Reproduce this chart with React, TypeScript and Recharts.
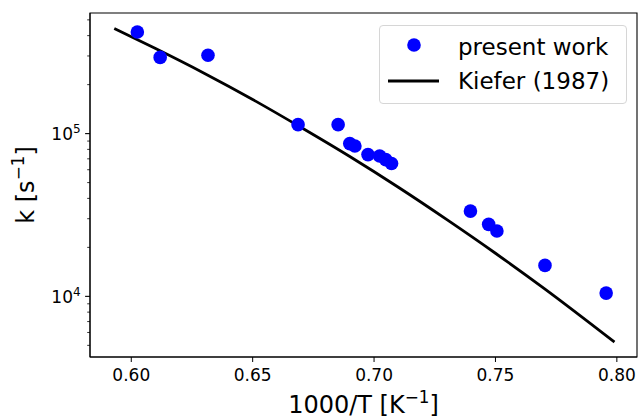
import { ComposedChart, XAxis, YAxis, Scatter, Line, Legend, Label, ReferenceArea } from 'recharts';

const FONT = '"DejaVu Sans", sans-serif';

// present work (1000/T, k)
const presentInvT = [0.6025, 0.6119, 0.6316, 0.6687, 0.6852, 0.69, 0.6921, 0.6975, 0.7023, 0.7048, 0.7072, 0.7397, 0.7472, 0.7506, 0.7704, 0.7956];
const presentK = [421000, 294000, 303000, 113500, 113500, 86800, 83900, 74300, 72800, 69200, 65500, 33400, 27700, 25200, 15500, 10470];

// Kiefer (1987) curve
const kieferInvT = [0.593, 0.61, 0.63, 0.65, 0.67, 0.69, 0.71, 0.73, 0.75, 0.77, 0.799];
const kieferK = [442000, 333000, 235000, 162000, 109000, 72300, 46800, 29600, 18400, 11200, 5240];

const xTicks = [0.6, 0.65, 0.7, 0.75, 0.8];
const yMajor = [10000, 100000];
const yMinor = [5000, 6000, 7000, 8000, 9000, 20000, 30000, 40000, 50000, 60000, 70000, 80000, 90000, 200000, 300000, 400000, 500000];

const xDomain = [0.583, 0.8083];
const yDomain = [4240, 551000];

const presentData = presentInvT.map((x, i) => ({ x, k: presentK[i] }));
const kieferData = kieferInvT.map((x, i) => ({ x, k: kieferK[i] }));

function BlueDot(props: any) {
  if (props.cx == null || props.cy == null) return null;
  return <circle cx={props.cx} cy={props.cy} r={6.8} fill="#0000ff" />;
}

function YTick({ x, y, payload }: any) {
  const v = payload.value;
  const major = yMajor.includes(v);
  const len = major ? 4.9 : 2.8;
  return (
    <g>
      <line x1={x - len} x2={x} y1={y} y2={y} stroke="#000" strokeWidth={major ? 1.1 : 0.8} />
      {major && (
        <text x={x - len - 4.5} y={y + 6.5} textAnchor="end" fontFamily={FONT} fontSize={17} fill="#000">
          10<tspan dy={-7} fontSize={12}>{Math.round(Math.log10(v))}</tspan>
        </text>
      )}
    </g>
  );
}

function XLabel({ viewBox }: any) {
  const cx = viewBox.x + viewBox.width / 2;
  return (
    <text x={cx} y={viewBox.y + 56} textAnchor="middle" fontFamily={FONT} fontSize={24} fill="#000">
      1000/T [K<tspan dy={-10} fontSize={16.8}>−1</tspan><tspan dy={10}>]</tspan>
    </text>
  );
}

function YLabel({ viewBox }: any) {
  const cy = viewBox.y + viewBox.height / 2;
  return (
    <text transform={`translate(33.5, ${cy}) rotate(-90)`} textAnchor="middle" fontFamily={FONT} fontSize={24} fill="#000">
      k [s<tspan dy={-10} fontSize={16.8}>−1</tspan><tspan dy={10}>]</tspan>
    </text>
  );
}

function LegendBox() {
  return (
    <div
      style={{
        width: 248,
        height: 79,
        boxSizing: 'border-box',
        border: '1px solid #d6d6d6',
        borderRadius: 4,
        background: 'rgba(255,255,255,0.8)',
      }}
    >
      <svg width={246} height={77} style={{ display: 'block' }}>
        <circle cx={34} cy={19} r={6.8} fill="#0000ff" />
        <text x={78} y={29} fontFamily={FONT} fontSize={23} fill="#000">present work</text>
        <line x1={8} x2={59} y1={55} y2={55} stroke="#000" strokeWidth={2.8} />
        <text x={78} y={63} fontFamily={FONT} fontSize={23} fill="#000">Kiefer (1987)</text>
      </svg>
    </div>
  );
}

export default function App() {
  return (
    <div style={{ position: 'absolute', left: 0, top: 0, background: '#fff' }}>
      <ComposedChart width={643} height={420} margin={{ top: 13, right: 6, bottom: 0, left: 0 }}>
        <XAxis
          dataKey="x"
          type="number"
          domain={xDomain}
          ticks={xTicks}
          interval={0}
          allowDataOverflow
          tickFormatter={(v: number) => v.toFixed(2)}
          height={63}
          tickSize={5}
          tickMargin={7}
          stroke="#000"
          tick={{ fill: '#000', fontSize: 17, fontFamily: FONT }}
        >
          <Label content={<XLabel />} />
        </XAxis>
        <YAxis
          dataKey="k"
          type="number"
          scale="log"
          domain={yDomain}
          allowDataOverflow
          ticks={[...yMinor, ...yMajor]}
          interval={0}
          width={90}
          tickSize={0}
          tickMargin={0}
          tickLine={false}
          tick={<YTick />}
          stroke="#000"
        >
          <Label content={<YLabel />} />
        </YAxis>
        <ReferenceArea
          x1={xDomain[0]}
          x2={xDomain[1]}
          y1={yDomain[0]}
          y2={yDomain[1]}
          fill="none"
          fillOpacity={0}
          stroke="#000"
          strokeWidth={1.1}
          ifOverflow="visible"
        />
        <Scatter name="present work" data={presentData} dataKey="k" shape={<BlueDot />} isAnimationActive={false} />
        <Line
          name="Kiefer (1987)"
          data={kieferData}
          dataKey="k"
          type="monotone"
          stroke="#000"
          strokeWidth={2.8}
          dot={false}
          activeDot={false}
          isAnimationActive={false}
        />
        <Legend
          layout="vertical"
          align="center"
          verticalAlign="middle"
          wrapperStyle={{ left: 379, top: 25, width: 248, height: 79 }}
          content={() => <LegendBox />}
        />
      </ComposedChart>
    </div>
  );
}
